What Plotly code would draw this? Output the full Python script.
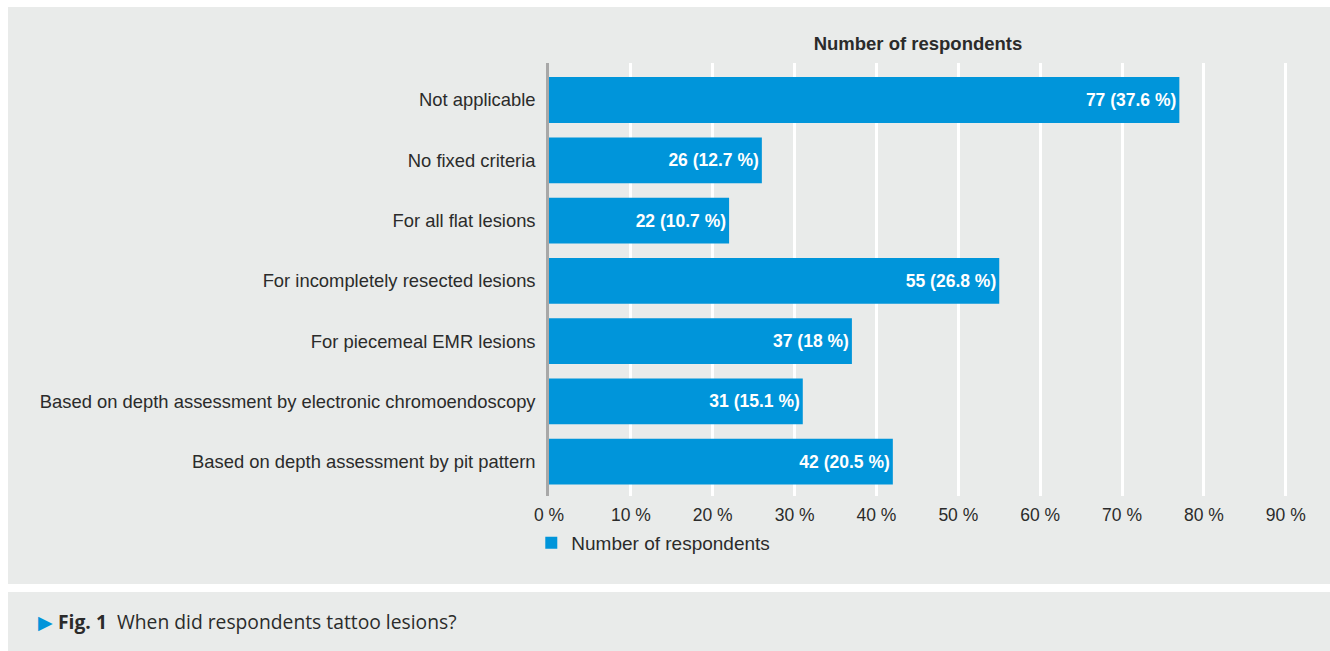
import plotly.graph_objects as go

categories = [
    "Not applicable",
    "No fixed criteria",
    "For all flat lesions",
    "For incompletely resected lesions",
    "For piecemeal EMR lesions",
    "Based on depth assessment by electronic chromoendoscopy",
    "Based on depth assessment by pit pattern",
]
counts = [77, 26, 22, 55, 37, 31, 42]
percents = [37.6, 12.7, 10.7, 26.8, 18, 15.1, 20.5]
tick_values = [0, 10, 20, 30, 40, 50, 60, 70, 80, 90]
tick_labels = [f"{v} %" for v in tick_values]
series_name = "Number of respondents"
caption_title = "Fig. 1"
caption_text = "When did respondents tattoo lesions?"

labels = [f"{c} ({p:g} %)" for c, p in zip(counts, percents)]

W, H = 1330, 651
L, R, T, B = 549, 1287, 63, 496
pw, ph = R - L, B - T

def px(x):
    return (x - L) / pw

def py(y):
    return (B - y) / ph

PANEL = "#e9ebea"
BLUE = "#0095da"
TXT = "#2b2b2b"

fig = go.Figure()
fig.add_trace(go.Bar(
    y=categories, x=counts, orientation="h", name=series_name,
    marker=dict(color=BLUE, line=dict(width=0)),
    width=0.76,
    text=labels, textposition="inside", insidetextanchor="end",
    textfont=dict(family="Liberation Sans", size=17.5, color="white", weight="bold"),
    showlegend=True,
))

shapes = [
    dict(type="rect", xref="paper", yref="paper", x0=px(8), x1=px(1332), y0=py(7), y1=py(584),
         fillcolor=PANEL, line=dict(width=0), layer="below"),
    dict(type="rect", xref="paper", yref="paper", x0=px(8), x1=px(1332), y0=py(592), y1=py(653),
         fillcolor=PANEL, line=dict(width=0), layer="below"),
]

fig.update_layout(
    width=W, height=H,
    margin=dict(l=L, r=W - R, t=T, b=H - B, pad=0),
    paper_bgcolor="white",
    plot_bgcolor="rgba(0,0,0,0)",
    shapes=shapes,
    font=dict(family="Liberation Sans", color=TXT),
    title=dict(text="<b>Number of respondents</b>", xref="paper", x=0.5, xanchor="center",
               yref="container", y=1 - 44 / H, yanchor="middle",
               font=dict(family="Liberation Sans", size=18.5, color=TXT)),
    xaxis=dict(range=[0, 90.15], tickvals=tick_values, ticktext=tick_labels,
               showgrid=True, gridcolor="white", gridwidth=2.5, zeroline=False,
               showline=False, ticks="", ticklabelstandoff=6,
               tickfont=dict(family="Liberation Sans", size=17.5, color=TXT)),
    yaxis=dict(type="category", categoryorder="array", categoryarray=categories,
               range=[6.57, -0.614], showgrid=False, zeroline=False,
               showline=True, linecolor="#a8a8a8", linewidth=2.5, ticks="",
               ticklabelstandoff=7,
               tickfont=dict(family="Liberation Sans", size=18.4, color=TXT)),
    legend=dict(orientation="h", x=-0.024, xanchor="left", y=py(543), yanchor="middle",
                bgcolor="rgba(0,0,0,0)", font=dict(family="Liberation Sans", size=19, color=TXT),
                itemwidth=30),
    annotations=[
        dict(xref="paper", yref="paper", x=px(36), y=py(621), xanchor="left", yanchor="middle",
             showarrow=False,
             text=f'<span style="color:{BLUE}">▶</span> <b>{caption_title}</b>  {caption_text}',
             font=dict(family="Open Sans", size=19.3, color=TXT)),
    ],
)

fig.write_html("out.html")
